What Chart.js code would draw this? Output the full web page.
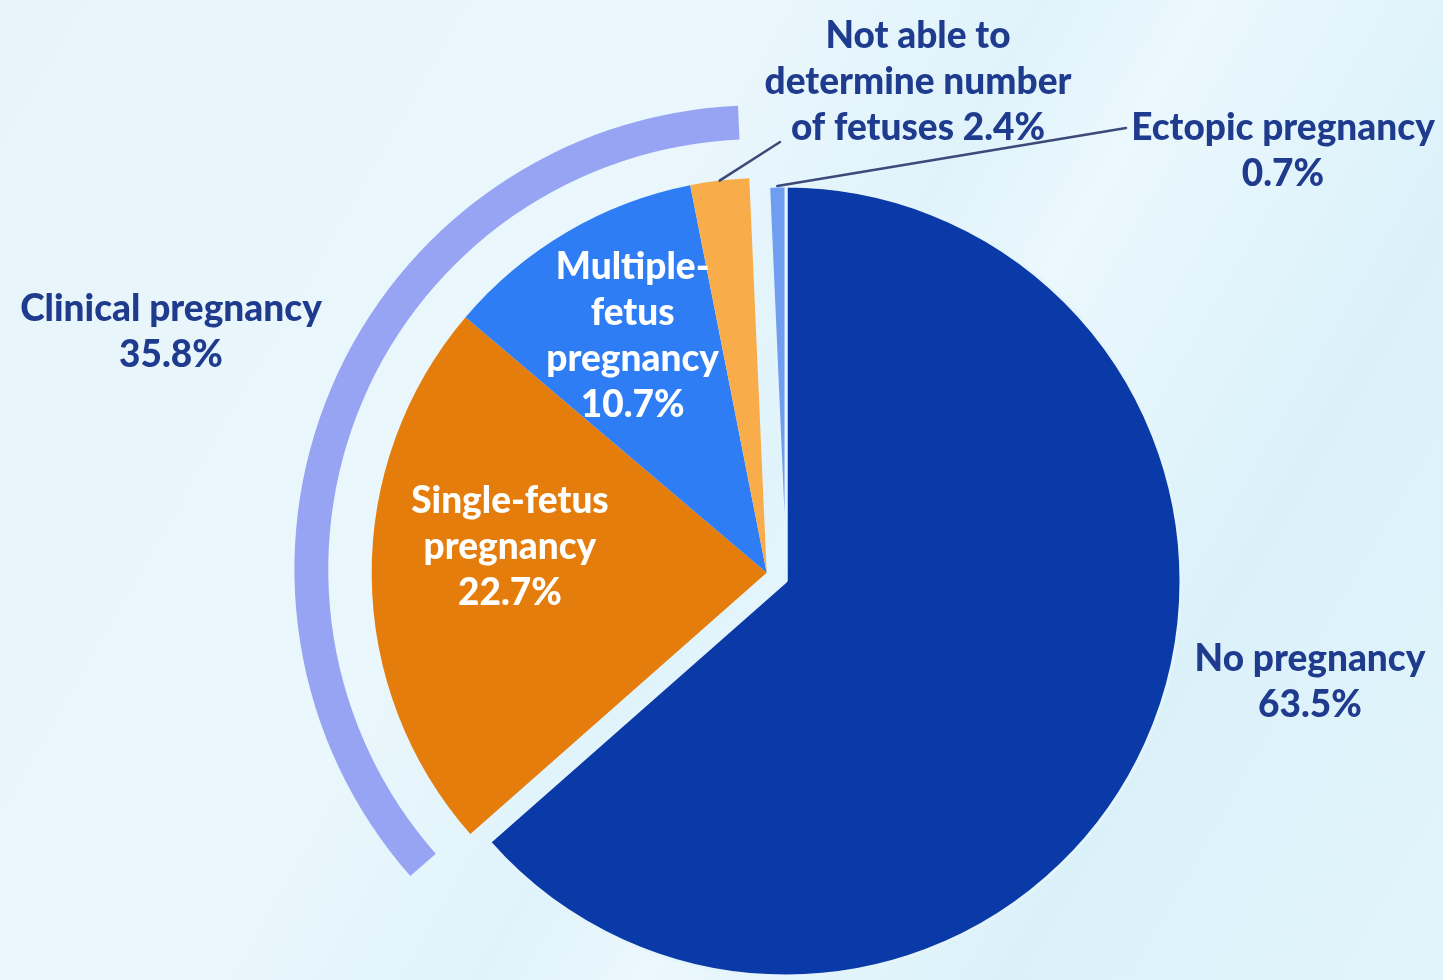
<!DOCTYPE html>
<html>
<head>
<meta charset="utf-8">
<title>Pregnancy outcomes</title>
<script src="https://cdn.jsdelivr.net/npm/chart.js@4.4.1/dist/chart.umd.min.js"></script>
<style>
  html, body { margin: 0; padding: 0; }
  body {
    width: 1443px; height: 980px; overflow: hidden;
    background: linear-gradient(120deg, #e7f5fb 0%, #eaf7fc 38%, #e0f3fb 52%, #ebf8fd 60%, #dbf1fa 78%, #e2f4fb 100%);
  }
  .wrap { position: relative; width: 1443px; height: 980px; }
  .wrap canvas { position: absolute; left: 0; top: 0; }
</style>
</head>
<body>
<div class="wrap">
  <canvas id="ringChart" width="1443" height="980"></canvas>
  <canvas id="baseChart" width="1443" height="980"></canvas>
  <canvas id="groupChart" width="1443" height="980"></canvas>
</div>
<script>
// outcome shares, clockwise from 12 o'clock
const categories = ['No pregnancy', 'Single-fetus pregnancy', 'Multiple-fetus pregnancy', 'Not able to determine number of fetuses', 'Ectopic pregnancy'];
const shares = [63.5, 22.7, 10.7, 2.4, 0.7];
const sliceColors = ['#0a3aa8', '#e57d0c', '#2f7df5', '#f8ad4a', '#6f9df0'];

// the three slices that make up clinical pregnancy
const clinicalGroup = [1, 2, 3];
const clinicalLabel = 'Clinical pregnancy';
const clinicalShare = 35.8;
const ringColor = '#97a4f4';

const W = 1443, H = 980;
const PIE_X = 786, PIE_Y = 581, PIE_R = 395;
const GROUP_PULL = 21;     // clinical slices pulled out from the centre
const RING_PULL = 30;
const RING_OUTER = 464;
const RING_CUTOUT = '92.7%';
const BG = '#e4f4fb';
const NAVY = '#1f3b8e';
const FONT = '900 37px Lato, "Open Sans", sans-serif';
const LINE_H = 46;

const sum = arr => arr.reduce((a, b) => a + b, 0);
const pct = v => v.toFixed(1) + '%';

function clinicalMidAngle() {
  const before = sum(shares.slice(0, clinicalGroup[0]));
  return (before + clinicalShare / 2) / sum(shares) * 2 * Math.PI;
}

// chart area padding that puts the pie centre at (cx, cy)
function centerPadding(cx, cy) {
  return {
    left: Math.max(0, 2 * cx - W), right: Math.max(0, W - 2 * cx),
    top: Math.max(0, 2 * cy - H), bottom: Math.max(0, H - 2 * cy)
  };
}
function pulled(dist) {
  const a = clinicalMidAngle();
  return centerPadding(PIE_X + dist * Math.sin(a), PIE_Y - dist * Math.cos(a));
}

const common = {
  responsive: false,
  animation: false,
  events: [],
  plugins: { legend: { display: false }, tooltip: { enabled: false } }
};

function drawLines(ctx, lines, x, y, color) {
  ctx.fillStyle = color;
  lines.forEach((t, i) => ctx.fillText(t, x, y + i * LINE_H));
}

// slice labels and leader lines
const labelPlugin = {
  id: 'sliceLabels',
  afterDraw(chart) {
    const ctx = chart.ctx;
    const base = Chart.getChart('baseChart');
    const groupArcs = chart.getDatasetMeta(0).data;
    const baseArcs = base.getDatasetMeta(0).data;
    ctx.save();
    ctx.font = FONT;
    ctx.textAlign = 'center';
    ctx.textBaseline = 'middle';

    // labels inside the pulled-out slices
    const inside = [
      { i: 1, lines: ['Single-fetus', 'pregnancy'], k: 0.65, dx: 0, dy: -74 },
      { i: 2, lines: ['Multiple-', 'fetus', 'pregnancy'], k: 0.65, dx: -4, dy: -84 }
    ];
    inside.forEach(l => {
      const a = groupArcs[l.i];
      const mid = (a.startAngle + a.endAngle) / 2;
      const x = a.x + Math.cos(mid) * a.outerRadius * l.k + l.dx;
      const y = a.y + Math.sin(mid) * a.outerRadius * l.k + l.dy;
      drawLines(ctx, l.lines.concat(pct(shares[l.i])), x, y, '#ffffff');
    });

    // leader lines for the two thin slices
    ctx.strokeStyle = '#3b4a78';
    ctx.lineWidth = 2.5;
    ctx.lineCap = 'round';
    const leader = (arc, x2, y2) => {
      const mid = (arc.startAngle + arc.endAngle) / 2;
      ctx.beginPath();
      ctx.moveTo(arc.x + Math.cos(mid) * arc.outerRadius, arc.y + Math.sin(mid) * arc.outerRadius);
      ctx.lineTo(x2, y2);
      ctx.stroke();
    };
    leader(groupArcs[3], 780, 142);
    leader(baseArcs[4], 1126, 128);

    drawLines(ctx, ['Not able to', 'determine number', 'of fetuses ' + pct(shares[3])], 918, 36, NAVY);
    drawLines(ctx, [categories[4], pct(shares[4])], 1283, 128, NAVY);
    drawLines(ctx, [clinicalLabel, pct(clinicalShare)], 171, 309, NAVY);
    drawLines(ctx, [categories[0], pct(shares[0])], 1310, 659, NAVY);
    ctx.restore();
  }
};

// outer arc spanning the clinical pregnancy slices
new Chart(document.getElementById('ringChart'), {
  type: 'doughnut',
  data: {
    labels: [categories[0], clinicalLabel, categories[4]],
    datasets: [{
      data: [shares[0], clinicalShare, shares[4]],
      backgroundColor: ['transparent', ringColor, 'transparent'],
      borderWidth: 0
    }]
  },
  options: Object.assign({}, common, {
    radius: RING_OUTER,
    cutout: RING_CUTOUT,
    layout: { padding: pulled(RING_PULL) }
  })
});

// no pregnancy and ectopic stay in place
new Chart(document.getElementById('baseChart'), {
  type: 'pie',
  data: {
    labels: categories,
    datasets: [{
      data: shares,
      backgroundColor: sliceColors.map((c, i) => clinicalGroup.includes(i) ? 'transparent' : c),
      borderColor: BG,
      borderWidth: shares.map((v, i) => clinicalGroup.includes(i) ? 0 : 3)
    }]
  },
  options: Object.assign({}, common, {
    radius: PIE_R,
    layout: { padding: centerPadding(PIE_X, PIE_Y) }
  })
});

// clinical pregnancy slices, pulled out together
new Chart(document.getElementById('groupChart'), {
  type: 'pie',
  data: {
    labels: categories,
    datasets: [{
      data: shares,
      backgroundColor: sliceColors.map((c, i) => clinicalGroup.includes(i) ? c : 'transparent'),
      borderWidth: 0
    }]
  },
  options: Object.assign({}, common, {
    radius: PIE_R,
    layout: { padding: pulled(GROUP_PULL) }
  }),
  plugins: [labelPlugin]
});
</script>
</body>
</html>
